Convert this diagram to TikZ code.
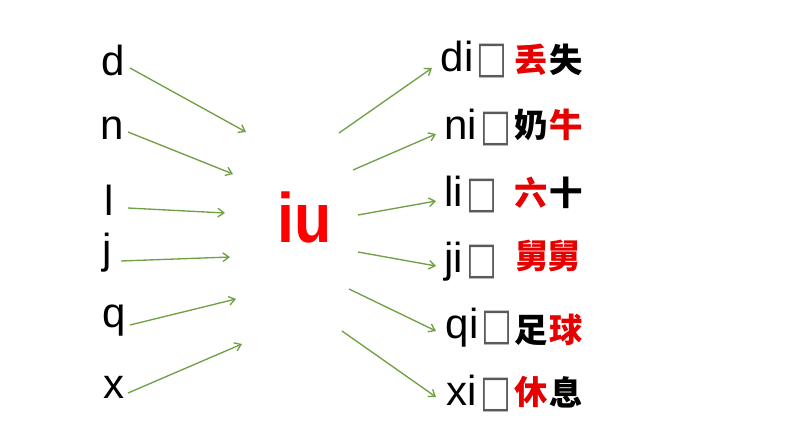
\documentclass[tikz,border=0pt]{standalone}
\usepackage{fontspec}
\setmainfont{Liberation Sans}
\newfontfamily\cjkfont{Noto Sans CJK SC}
\newfontfamily\boxfont{DejaVu Sans}
\usetikzlibrary{arrows.meta}
\definecolor{arrgreen}{RGB}{112,160,70}
\definecolor{hzred}{RGB}{230,0,0}
\definecolor{boxgrey}{RGB}{90,90,90}
\newcommand{\bx}{\kern2.5pt{\boxfont\color{boxgrey}\raisebox{-1pt}{\scalebox{0.78}[1.05]{□}}}}
\begin{document}
\begin{tikzpicture}[x=0.75pt,y=-0.75pt,
  lett/.style={anchor=base west,inner sep=0pt,font=\fontsize{31.5}{31.5}\selectfont},
  hz/.style={inner sep=0pt,font=\cjkfont\bfseries\fontsize{25}{25}\selectfont},
  hzr/.style={hz,text=hzred},
  arr/.style={draw=arrgreen,line width=1pt,-{Straight Barb[length=4.5pt,width=6.5pt]}}]
\useasboundingbox (0,0) rectangle (794,447);
% left initials
\node[lett] (d) at (101.5,75) {d};
\node[lett] (n) at (100,139) {n};
\node[lett] (l) at (104,215) {l};
\node[lett] (j) at (102,263) {j};
\node[lett] (q) at (102.5,327) {q};
\node[lett] (x) at (103.5,398) {x};
% centre final
\node[anchor=base,inner sep=0pt,text=red,font=\bfseries\fontsize{52.5}{52.5}\selectfont] (iu) at (305,242) {\scalebox{0.87}[1]{iu}};
% right syllables
\node[lett] (di) at (440.5,71) {di\bx};
\node[lett] (ni) at (444,139) {ni\bx};
\node[lett] (li) at (444,206) {li\bx};
\node[lett] (ji) at (444,272) {ji\bx};
\node[lett] (qi) at (445.5,338) {qi\bx};
\node[lett] (xi) at (446.5,405) {xi\bx};
% characters
\node[hzr] (c1a) at (531,60) {丢};
\node[hz]  (c1b) at (566,60) {失};
\node[hz]  (c2a) at (531,125) {奶};
\node[hzr] (c2b) at (566,125) {牛};
\node[hzr] (c3a) at (531,193) {六};
\node[hz]  (c3b) at (566,193) {十};
\node[hzr] (c4a) at (532,256) {舅};
\node[hzr] (c4b) at (564,256) {舅};
\node[hz]  (c5a) at (531,330) {足};
\node[hzr] (c5b) at (566,330) {球};
\node[hzr] (c6a) at (531,392) {休};
\node[hz]  (c6b) at (566,392) {息};
% arrow end points
\coordinate (s1) at (130,68);  \coordinate (e1) at (246,132);
\coordinate (s2) at (128,132); \coordinate (e2) at (233,174);
\coordinate (s3) at (128,208); \coordinate (e3) at (225,213);
\coordinate (s4) at (121,261); \coordinate (e4) at (230,257);
\coordinate (s5) at (130,325); \coordinate (e5) at (236,299);
\coordinate (s6) at (128,393); \coordinate (e6) at (242,344);
\coordinate (t1) at (339,133); \coordinate (f1) at (432,68);
\coordinate (t2) at (353,170); \coordinate (f2) at (436,134);
\coordinate (t3) at (358,215); \coordinate (f3) at (436,201);
\coordinate (t4) at (358,252); \coordinate (f4) at (436,266);
\coordinate (t5) at (349,289); \coordinate (f5) at (436,331);
\coordinate (t6) at (342,331); \coordinate (f6) at (436,397);
\foreach \i in {1,...,6}{
  \draw[arr] (s\i) -- (e\i);
  \draw[arr] (t\i) -- (f\i);
}
\end{tikzpicture}
\end{document}
